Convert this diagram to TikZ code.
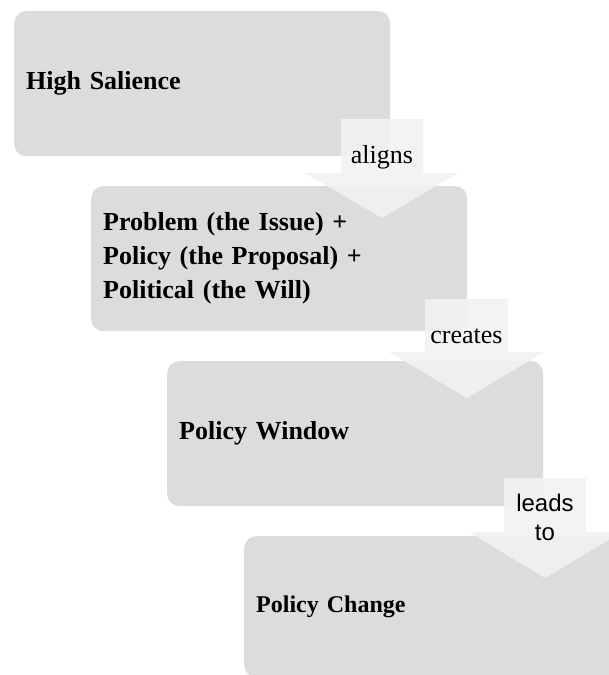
\documentclass[tikz,border=0pt]{standalone}
\usepackage{fontspec}
\setmainfont{Liberation Serif}
\setsansfont{Liberation Sans}
\definecolor{boxgray}{HTML}{DCDCDC}
\definecolor{arrowgray}{HTML}{F2F2F2}
\begin{document}
\begin{tikzpicture}[x=1pt,y=-1pt,
  stage/.style={fill=boxgray, rounded corners=12pt, minimum width=376pt, minimum height=145pt,
    text width=352pt, align=left, inner sep=12pt, anchor=north west,
    font=\fontsize{26}{34}\selectfont\bfseries},
  blockarrow/.style={fill=arrowgray, fill opacity=0.9},
  arrowlabel/.style={font=\rmfamily\fontsize{26}{30}\selectfont, inner sep=0pt}]
\useasboundingbox (0,0) rectangle (609,675);
\clip (0,0) rectangle (609,675);
\node[stage] (s1) at (14,11) {High Salience};
\node[stage] (s2) at (91,186) {Problem (the Issue) +\\Policy (the Proposal) +\\Political (the Will)};
\node[stage] (s3) at (167,361) {Policy Window};
\node[stage, minimum height=141pt, font=\fontsize{24}{30}\selectfont\bfseries] (s4) at (244,536) {Policy Change};
% block arrows
\fill[blockarrow] (341,119) -- (423,119) -- (423,173) -- (458,173) -- (382,218) -- (305,173) -- (341,173) -- cycle;
\fill[blockarrow] (425,299) -- (508,299) -- (508,352) -- (544,352) -- (467,398) -- (389,352) -- (425,352) -- cycle;
\fill[blockarrow] (504,478) -- (586,478) -- (586,532) -- (622,532) -- (545,578) -- (469,532) -- (504,532) -- cycle;
\node[arrowlabel, anchor=base] (l1) at (382,163) {aligns};
\node[arrowlabel, anchor=base] (l2) at (466.5,343) {creates};
\node[arrowlabel, font=\sffamily\fontsize{24}{29}\selectfont, align=center, anchor=center] (l3) at (545,517) {leads\\to};
\end{tikzpicture}
\end{document}
